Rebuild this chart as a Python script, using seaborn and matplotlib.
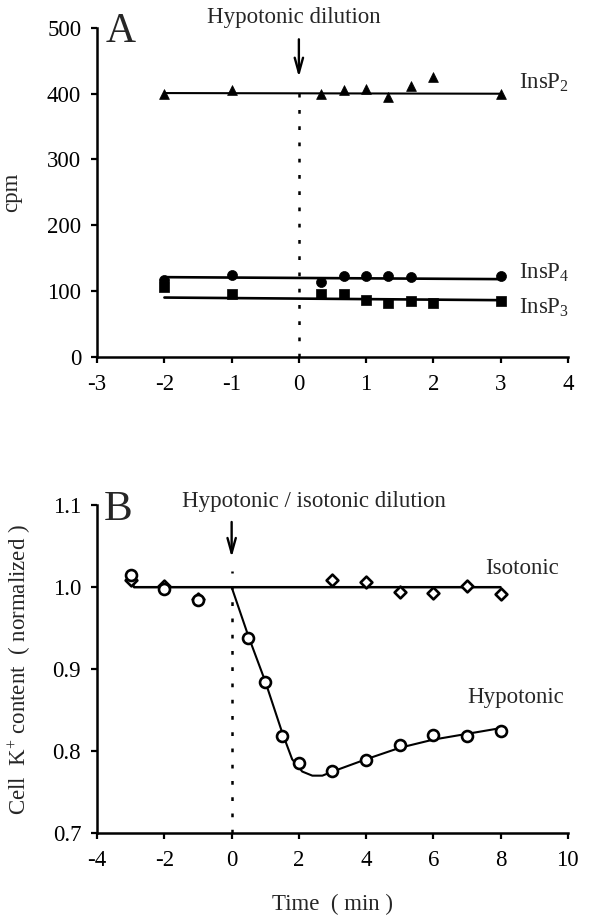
import matplotlib
matplotlib.use("Agg")
import matplotlib.pyplot as plt
import seaborn as sns
import numpy as np

# ---------------- data: panel A ----------------
insp2_x = [-2, -1, 0.33, 0.67, 1, 1.33, 1.67, 2, 3]
insp2_y = [400, 405, 400, 406, 407, 395, 411, 426, 399]
insp2_fit_x = [-2, 3]
insp2_fit_y = [401, 400]

insp4_x = [-2, -1, 0.33, 0.67, 1, 1.33, 1.67, 3]
insp4_y = [116, 124, 113, 122, 123, 122, 121, 122]
insp4_fit_x = [-2, 3]
insp4_fit_y = [121, 118]

insp3_x = [-2, -1, 0.33, 0.67, 1, 1.33, 1.67, 2, 3]
insp3_y = [106, 96, 96, 96, 87, 82, 84, 82, 85]
insp3_fit_x = [-2, 3]
insp3_fit_y = [90, 86]

# ---------------- data: panel B ----------------
iso_x = [-3, -2, -1, 3, 4, 5, 6, 7, 8]
iso_y = [1.009, 1.002, 0.985, 1.009, 1.006, 0.994, 0.993, 1.002, 0.992]
iso_fit_x = [-3, -2.9, 8]
iso_fit_y = [1.008, 1.000, 1.000]

hypo_x = [-3, -2, -1, 0.5, 1, 1.5, 2, 3, 4, 5, 6, 7, 8]
hypo_y = [1.015, 0.998, 0.984, 0.938, 0.884, 0.819, 0.785, 0.776, 0.789, 0.807, 0.820, 0.818, 0.824]
hypo_fit_x = [0, 0.5, 1, 1.5, 1.8, 2.1, 2.4, 2.7, 3, 4, 5, 6, 7, 8]
hypo_fit_y = [1.0, 0.94, 0.885, 0.823, 0.790, 0.775, 0.770, 0.770, 0.775, 0.790, 0.804, 0.814, 0.821, 0.828]

a_xticks = [-3, -2, -1, 0, 1, 2, 3, 4]
a_yticks = [0, 100, 200, 300, 400, 500]
b_xticks = [-4, -2, 0, 2, 4, 6, 8, 10]
b_yticks = [0.7, 0.8, 0.9, 1.0, 1.1]

# ---------------- style ----------------
sns.set_theme(style="ticks")
plt.rcParams["font.family"] = ["Liberation Serif", "DejaVu Serif"]
plt.rcParams["mathtext.fontset"] = "custom"
plt.rcParams["mathtext.rm"] = "Liberation Serif"
plt.rcParams["mathtext.it"] = "Liberation Serif:italic"
plt.rcParams["mathtext.default"] = "regular"

FS = 16.5
fig = plt.figure(figsize=(5.89, 9.17), dpi=100)
axA = fig.add_axes([0.165, 0.611, 0.799, 0.3585])
axB = fig.add_axes([0.165, 0.0916, 0.799, 0.3574])


def style_axis(ax):
    for s in ["top", "right"]:
        ax.spines[s].set_visible(False)
    for s in ["left", "bottom"]:
        ax.spines[s].set_linewidth(1.8)
        ax.spines[s].set_color("black")
    ax.tick_params(axis="both", direction="out", length=4.5, width=1.6,
                   colors="black", labelsize=FS)
    ax.tick_params(axis="y", pad=7)
    ax.tick_params(axis="x", pad=8)
    ax.set_facecolor("white")


lw = 1.5
# ---------------- panel A ----------------
sns.lineplot(x=insp2_fit_x, y=insp2_fit_y, ax=axA, color="black", lw=lw, sort=False, estimator=None)
sns.lineplot(x=insp4_fit_x, y=insp4_fit_y, ax=axA, color="black", lw=lw + 0.4, sort=False, estimator=None)
sns.lineplot(x=insp3_fit_x, y=insp3_fit_y, ax=axA, color="black", lw=lw + 0.4, sort=False, estimator=None)
sns.scatterplot(x=insp2_x, y=insp2_y, ax=axA, marker="^", s=50, color="black", edgecolor="black", linewidth=0.5, zorder=3)
sns.scatterplot(x=insp4_x, y=insp4_y, ax=axA, marker="o", s=52, color="black", edgecolor="black", linewidth=0.5, zorder=3)
sns.scatterplot(x=insp3_x, y=insp3_y, ax=axA, marker="s", s=42, color="black", edgecolor="black", linewidth=0.5, zorder=3)

axA.plot([0, 0], [0, 416], color="black", lw=1.8, linestyle=(0, (1.5, 5)))
axA.annotate("", xy=(0, 421), xytext=(0, 487),
             arrowprops=dict(arrowstyle="->,head_length=0.9,head_width=0.25", lw=1.7, color="black"))
axA.text(-0.08, 516, "Hypotonic dilution", ha="center", va="center", fontsize=FS)
axA.text(-2.87, 479, "A", ha="left", va="baseline", fontsize=30)
axA.text(3.28, 416, "InsP$_2$", ha="left", va="center", fontsize=FS)
axA.text(3.28, 128, "InsP$_4$", ha="left", va="center", fontsize=FS)
axA.text(3.28, 75, "InsP$_3$", ha="left", va="center", fontsize=FS)

axA.set_xlim(-3, 4)
axA.set_ylim(0, 500)
axA.set_xticks(a_xticks)
axA.set_yticks(a_yticks)
axA.set_xticklabels([str(v) for v in a_xticks])
axA.set_ylabel("cpm", fontsize=FS)
axA.yaxis.set_label_coords(-0.16, 0.5)
style_axis(axA)

# ---------------- panel B ----------------
sns.lineplot(x=iso_fit_x, y=iso_fit_y, ax=axB, color="black", lw=lw + 0.3, sort=False, estimator=None)
sns.lineplot(x=hypo_fit_x, y=hypo_fit_y, ax=axB, color="black", lw=lw, sort=False, estimator=None)
sns.scatterplot(x=iso_x, y=iso_y, ax=axB, marker="D", s=36, color="white", edgecolor="black", linewidth=1.9, zorder=3)
sns.scatterplot(x=hypo_x, y=hypo_y, ax=axB, marker="o", s=62, color="white", edgecolor="black", linewidth=1.9, zorder=3)

axB.plot([0, 0], [0.7, 1.02], color="black", lw=1.8, linestyle=(0, (1.5, 5)))
axB.annotate("", xy=(0, 1.033), xytext=(0, 1.083),
             arrowprops=dict(arrowstyle="->,head_length=0.9,head_width=0.25", lw=1.7, color="black"))
axB.text(2.46, 1.104, "Hypotonic / isotonic dilution", ha="center", va="center", fontsize=FS)
axB.text(-3.79, 1.082, "B", ha="left", va="baseline", fontsize=31)
axB.text(7.55, 1.023, "Isotonic", ha="left", va="center", fontsize=FS)
axB.text(7.0, 0.865, "Hypotonic", ha="left", va="center", fontsize=FS)

axB.set_xlim(-4, 10)
axB.set_ylim(0.7, 1.1)
axB.set_xticks(b_xticks)
axB.set_yticks(b_yticks)
axB.set_xticklabels([str(v) for v in b_xticks])
axB.set_yticklabels([f"{v:.1f}" for v in b_yticks])
axB.set_xlabel("Time  ( min )", fontsize=FS)
axB.set_ylabel("Cell  K$^{+}$ content  ( normalized )", fontsize=FS)
axB.yaxis.set_label_coords(-0.136, 0.5)
axB.xaxis.set_label_coords(0.5, -0.185)
style_axis(axB)

fig.savefig("out.png", dpi=100, facecolor="white")
